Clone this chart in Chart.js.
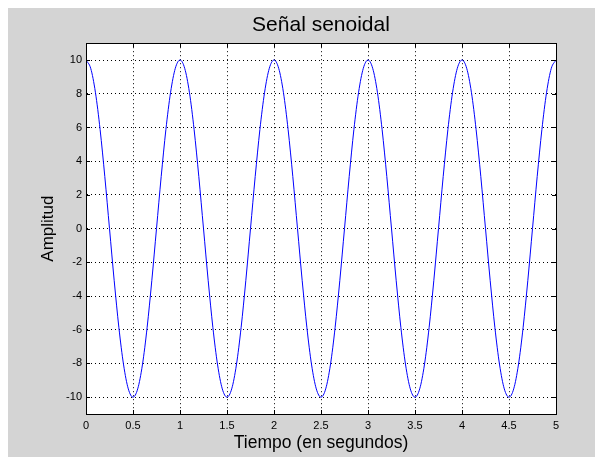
<!DOCTYPE html>
<html>
<head>
<meta charset="utf-8">
<script src="https://cdn.jsdelivr.net/npm/chart.js@4/dist/chart.umd.min.js"></script>
<style>
  html, body { margin: 0; padding: 0; background: #ffffff; }
  #wrap { width: 595px; height: 457px; }
</style>
</head>
<body>
<div id="wrap"><canvas id="c" width="595" height="457"></canvas></div>
<script>
// Sampled signal: time (s) and amplitude
const timeValues = [
  0, 0.05, 0.1, 0.15, 0.2, 0.25, 0.3, 0.35, 0.4, 0.45,
  0.5, 0.55, 0.6, 0.65, 0.7, 0.75, 0.8, 0.85, 0.9, 0.95,
  1, 1.05, 1.1, 1.15, 1.2, 1.25, 1.3, 1.35, 1.4, 1.45,
  1.5, 1.55, 1.6, 1.65, 1.7, 1.75, 1.8, 1.85, 1.9, 1.95,
  2, 2.05, 2.1, 2.15, 2.2, 2.25, 2.3, 2.35, 2.4, 2.45,
  2.5, 2.55, 2.6, 2.65, 2.7, 2.75, 2.8, 2.85, 2.9, 2.95,
  3, 3.05, 3.1, 3.15, 3.2, 3.25, 3.3, 3.35, 3.4, 3.45,
  3.5, 3.55, 3.6, 3.65, 3.7, 3.75, 3.8, 3.85, 3.9, 3.95,
  4, 4.05, 4.1, 4.15, 4.2, 4.25, 4.3, 4.35, 4.4, 4.45,
  4.5, 4.55, 4.6, 4.65, 4.7, 4.75, 4.8, 4.85, 4.9, 4.95,
  5
];
const amplitudeValues = [
  10, 9.51, 8.09, 5.88, 3.09, 0, -3.09, -5.88, -8.09, -9.51,
  -10, -9.51, -8.09, -5.88, -3.09, 0, 3.09, 5.88, 8.09, 9.51,
  10, 9.51, 8.09, 5.88, 3.09, 0, -3.09, -5.88, -8.09, -9.51,
  -10, -9.51, -8.09, -5.88, -3.09, 0, 3.09, 5.88, 8.09, 9.51,
  10, 9.51, 8.09, 5.88, 3.09, 0, -3.09, -5.88, -8.09, -9.51,
  -10, -9.51, -8.09, -5.88, -3.09, 0, 3.09, 5.88, 8.09, 9.51,
  10, 9.51, 8.09, 5.88, 3.09, 0, -3.09, -5.88, -8.09, -9.51,
  -10, -9.51, -8.09, -5.88, -3.09, 0, 3.09, 5.88, 8.09, 9.51,
  10, 9.51, 8.09, 5.88, 3.09, 0, -3.09, -5.88, -8.09, -9.51,
  -10, -9.51, -8.09, -5.88, -3.09, 0, 3.09, 5.88, 8.09, 9.51,
  10
];
const xTickValues = [0, 0.5, 1, 1.5, 2, 2.5, 3, 3.5, 4, 4.5, 5];
const yTickValues = [-10, -8, -6, -4, -2, 0, 2, 4, 6, 8, 10];

const points = timeValues.map((t, i) => ({ x: t, y: amplitudeValues[i] }));

const FIG_BG = '#d4d4d4';
const FONT = "'Liberation Sans', Arial, Helvetica, sans-serif";

// Figure background, white plot area, frame and inward tick marks
const framePlugin = {
  id: 'frame',
  beforeDraw(chart) {
    const ctx = chart.ctx;
    const a = chart.chartArea;
    ctx.save();
    ctx.fillStyle = '#ffffff';
    ctx.fillRect(0, 0, chart.width, chart.height);
    ctx.fillStyle = FIG_BG;
    ctx.fillRect(8, 8, chart.width - 8, chart.height - 8);
    ctx.fillStyle = '#ffffff';
    ctx.fillRect(a.left, a.top, a.right - a.left, a.bottom - a.top);
    ctx.restore();
  },
  afterDraw(chart) {
    const ctx = chart.ctx;
    const a = chart.chartArea;
    const xs = chart.scales.x, ys = chart.scales.y;
    const len = 4;
    ctx.save();
    ctx.strokeStyle = '#000000';
    ctx.lineWidth = 1;
    ctx.setLineDash([]);
    ctx.beginPath();
    xTickValues.forEach(v => {
      const px = Math.round(xs.getPixelForValue(v)) + 0.5;
      ctx.moveTo(px, a.bottom); ctx.lineTo(px, a.bottom - len);
      ctx.moveTo(px, a.top); ctx.lineTo(px, a.top + len);
    });
    yTickValues.forEach(v => {
      const py = Math.round(ys.getPixelForValue(v)) + 0.5;
      ctx.moveTo(a.left, py); ctx.lineTo(a.left + len, py);
      ctx.moveTo(a.right, py); ctx.lineTo(a.right - len, py);
    });
    ctx.stroke();
    ctx.strokeRect(Math.round(a.left) + 0.5, Math.round(a.top) + 0.5,
                   Math.round(a.right - a.left), Math.round(a.bottom - a.top));
    ctx.restore();
  }
};

const gridOpts = { color: '#000000', lineWidth: 1, drawTicks: false };
const borderOpts = { display: true, color: '#000000', width: 1, dash: [1, 3] };

new Chart(document.getElementById('c'), {
  type: 'line',
  data: {
    datasets: [{
      data: points,
      borderColor: '#0000ff',
      borderWidth: 1,
      pointRadius: 0,
      cubicInterpolationMode: 'monotone',
      fill: false
    }]
  },
  options: {
    responsive: false,
    animation: false,
    devicePixelRatio: 1,
    layout: { padding: { left: 0, top: 0, right: 39, bottom: 0 } },
    plugins: {
      legend: { display: false },
      tooltip: { enabled: false },
      title: {
        display: true,
        text: 'Señal senoidal',
        fullSize: false,
        color: '#000000',
        font: { family: FONT, size: 21, weight: 'normal', lineHeight: 1.2 },
        padding: { top: 13, bottom: 5 }
      }
    },
    scales: {
      x: {
        type: 'linear',
        min: 0,
        max: 5,
        afterFit(scale) { scale.height = 43; },
        afterBuildTicks(scale) { scale.ticks = xTickValues.map(v => ({ value: v })); },
        grid: gridOpts,
        border: borderOpts,
        ticks: {
          color: '#000000',
          padding: 5,
          maxRotation: 0,
          autoSkip: false,
          font: { family: FONT, size: 11 },
          callback: v => String(v)
        },
        title: {
          display: true,
          text: 'Tiempo (en segundos)',
          color: '#000000',
          font: { family: FONT, size: 17.5, lineHeight: 1.2 },
          padding: { top: 0, bottom: 3 }
        }
      },
      y: {
        type: 'linear',
        min: -11,
        max: 11,
        afterFit(scale) { scale.width = 86; },
        afterBuildTicks(scale) { scale.ticks = yTickValues.map(v => ({ value: v })); },
        grid: gridOpts,
        border: borderOpts,
        ticks: {
          color: '#000000',
          padding: 4,
          autoSkip: false,
          font: { family: FONT, size: 11 },
          callback: v => String(v)
        },
        title: {
          display: true,
          text: 'Amplitud',
          color: '#000000',
          font: { family: FONT, size: 17, lineHeight: 1.2 },
          padding: { top: 38, bottom: 0 }
        }
      }
    }
  },
  plugins: [framePlugin]
});
</script>
</body>
</html>
